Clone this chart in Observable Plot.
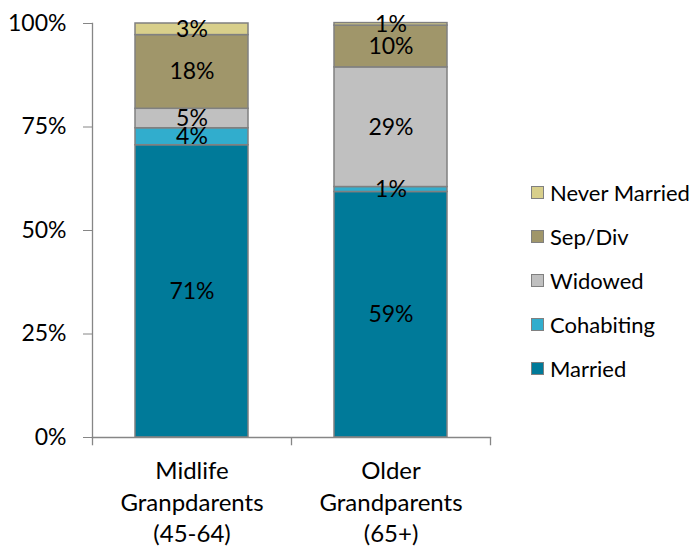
<!DOCTYPE html>
<html>
<head>
<meta charset="utf-8">
<script src="https://cdn.jsdelivr.net/npm/d3@7"></script>
<script src="https://cdn.jsdelivr.net/npm/@observablehq/plot@0.6"></script>
<style>
  html, body { margin: 0; padding: 0; background: #fff; }
  #wrap { position: relative; width: 694px; height: 548px; font-family: Lato, "Noto Sans", sans-serif; }
  #legend { position: absolute; left: 531px; top: 170px; white-space: nowrap; }
  .item { display: flex; align-items: center; height: 44px; font-size: 22px; color: #000; white-space: nowrap; }
  .sw { width: 11px; height: 11px; border: 1.5px solid #808080; margin-right: 6px; flex: none; }
</style>
</head>
<body>
<div id="wrap"></div>
<script>
const groups = ["Midlife", "Older"];
const groupLabels = ["Midlife\nGranpdarents\n(45-64)", "Older\nGrandparents\n(65+)"];
const statuses = ["Married", "Cohabiting", "Widowed", "Sep/Div", "Never Married"];
const colors = ["#007A99", "#31ADCD", "#C0C0C0", "#A0966A", "#D8CF8B"];
const midlife = [70.6, 4.1, 4.7, 17.8, 2.8];
const older = [59.3, 1.2, 28.9, 10.1, 0.6];
const yTicks = [0, 0.25, 0.5, 0.75, 1];

const series = [midlife, older];
const data = [];
groups.forEach((g, gi) => statuses.forEach((s, si) => data.push({group: g, status: s, value: series[gi][si] / 100})));

const FONT = "Lato, 'Noto Sans', sans-serif";
const chart = Plot.plot({
  width: 694,
  height: 548,
  marginLeft: 92,
  marginRight: 204,
  marginTop: 23,
  marginBottom: 111,
  style: {fontFamily: FONT, fontSize: "23px", color: "#000", background: "#fff"},
  x: {domain: groups, paddingInner: 0.432, paddingOuter: 0.216, axis: null, label: null},
  y: {domain: [0, 1], axis: null, label: null},
  color: {domain: statuses, range: colors},
  marks: [
    Plot.barY(data, Plot.stackY({x: "group", y: "value", z: "status", fill: "status", order: statuses, stroke: "#808080", strokeWidth: 1.5})),
    Plot.text(data, Plot.stackY({x: "group", y: "value", z: "status", order: statuses, text: d => Math.round(d.value * 100) + "%", fill: "#000", fontSize: 23})),
    Plot.axisY(yTicks, {tickFormat: d => Math.round(d * 100) + "%", tickSize: 9, tickPadding: 17, stroke: "#868686", fill: "#000", fontSize: 23, label: null}),
    Plot.frame({anchor: "left", stroke: "#868686", strokeWidth: 1.3}),
    Plot.frame({anchor: "bottom", stroke: "#868686", strokeWidth: 1.3}),
    Plot.ruleX(groups, {x: d => d, dx: -99.5, y1: 0, y2: -0.02, stroke: "#868686", strokeWidth: 1.3}),
    Plot.ruleX(groups.slice(-1), {x: d => d, dx: 99.5, y1: 0, y2: -0.02, stroke: "#868686", strokeWidth: 1.3}),
    Plot.axisX(groups, {tickSize: 0, tickPadding: 19, tickFormat: d => groupLabels[groups.indexOf(d)], lineHeight: 1.32, fill: "#000", fontSize: 24, lineWidth: 20, label: null})
  ]
});
const wrap = document.getElementById("wrap");
wrap.appendChild(chart);

const legend = document.createElement("div");
legend.id = "legend";
statuses.slice().reverse().forEach(s => {
  const item = document.createElement("div");
  item.className = "item";
  const sw = document.createElement("div");
  sw.className = "sw";
  sw.style.background = colors[statuses.indexOf(s)];
  const t = document.createElement("span");
  t.textContent = s;
  item.appendChild(sw);
  item.appendChild(t);
  legend.appendChild(item);
});
wrap.appendChild(legend);
</script>
</body>
</html>
